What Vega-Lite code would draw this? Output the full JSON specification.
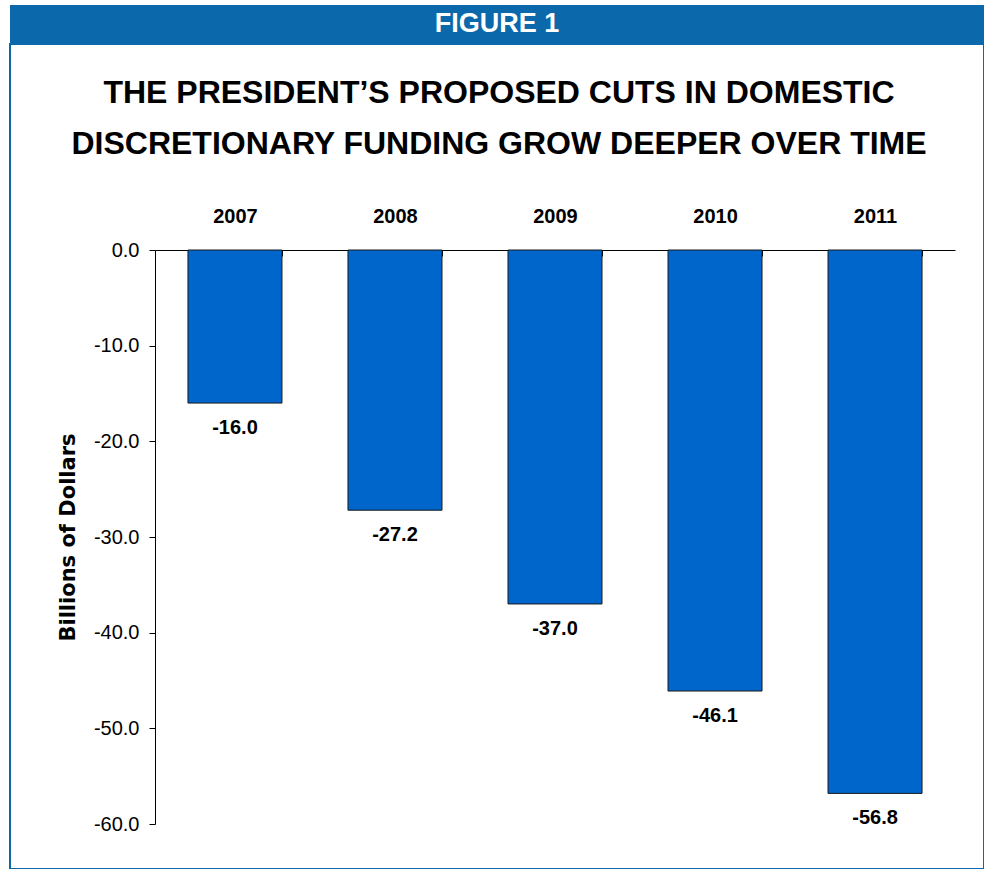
{
  "$schema": "https://vega.github.io/schema/vega-lite/v6.json",
  "padding": {"left": 9, "top": 5, "right": 0, "bottom": 0},
  "background": "white",
  "spacing": 0,
  "config": {
    "concat": {"spacing": 0},
    "view": {"stroke": null},
    "locale": {"number": {"decimal": ".", "thousands": ",", "grouping": [3], "currency": ["$", ""], "minus": "-"}}
  },
  "title": {
    "text": ["THE PRESIDENT’S PROPOSED CUTS IN DOMESTIC", "DISCRETIONARY FUNDING GROW DEEPER OVER TIME"],
    "anchor": "middle",
    "frame": "bounds",
    "offset": -156,
    "dx": 2,
    "font": "Liberation Sans",
    "fontWeight": "bold",
    "fontSize": 32,
    "lineHeight": 51,
    "color": "#000000"
  },
  "vconcat": [
    {
      "width": 974,
      "height": 38,
      "view": {"fill": "#0B68AA", "stroke": null},
      "data": {"values": [{"label": "FIGURE 1"}]},
      "mark": {"type": "text", "color": "white", "font": "Liberation Sans", "fontWeight": "bold", "fontSize": 27},
      "encoding": {"text": {"field": "label", "type": "nominal"}}
    },
    {
      "width": 974,
      "height": 825,
      "view": {"fill": "white", "stroke": "#0B68AA", "strokeWidth": 2},
      "data": {"values": [
        {"year": "2007", "value": -16.0},
        {"year": "2008", "value": -27.2},
        {"year": "2009", "value": -37.0},
        {"year": "2010", "value": -46.1},
        {"year": "2011", "value": -56.8}
      ]},
      "encoding": {
        "x": {
          "field": "year", "type": "nominal", "sort": null,
          "scale": {"range": [145, 945], "paddingInner": 0.4125, "paddingOuter": 0.206},
          "axis": {
            "orient": "top", "offset": -206, "title": null, "labelAngle": 0,
            "tickBand": "extent", "tickSize": -6, "tickColor": "#000", "domainColor": "#000",
            "labelFont": "Liberation Sans", "labelFontWeight": "bold", "labelFontSize": 20,
            "labelColor": "#000", "labelPadding": 30
          }
        },
        "y": {
          "field": "value", "type": "quantitative",
          "scale": {"domain": [-60, 0], "range": [780, 206], "nice": false},
          "axis": {
            "offset": -145, "values": [0, -10, -20, -30, -40, -50, -60], "format": ".1f",
            "grid": false, "tickSize": 6, "tickColor": "#000", "domainColor": "#000",
            "labelFont": "Liberation Sans", "labelFontSize": 20, "labelColor": "#000", "labelPadding": 10,
            "title": "Billions of Dollars", "titleFont": "DejaVu Sans", "titleFontWeight": "bold",
            "titleFontSize": 21, "titleColor": "#000", "titlePadding": 15
          }
        }
      },
      "layer": [
        {"mark": {"type": "bar", "color": "#0066CC", "stroke": "#1a1a1a", "strokeWidth": 1}},
        {
          "mark": {"type": "text", "baseline": "top", "dy": 15, "font": "Liberation Sans", "fontWeight": "bold", "fontSize": 20, "color": "#000"},
          "encoding": {"text": {"field": "value", "type": "quantitative", "format": ".1f"}}
        }
      ]
    }
  ]
}
